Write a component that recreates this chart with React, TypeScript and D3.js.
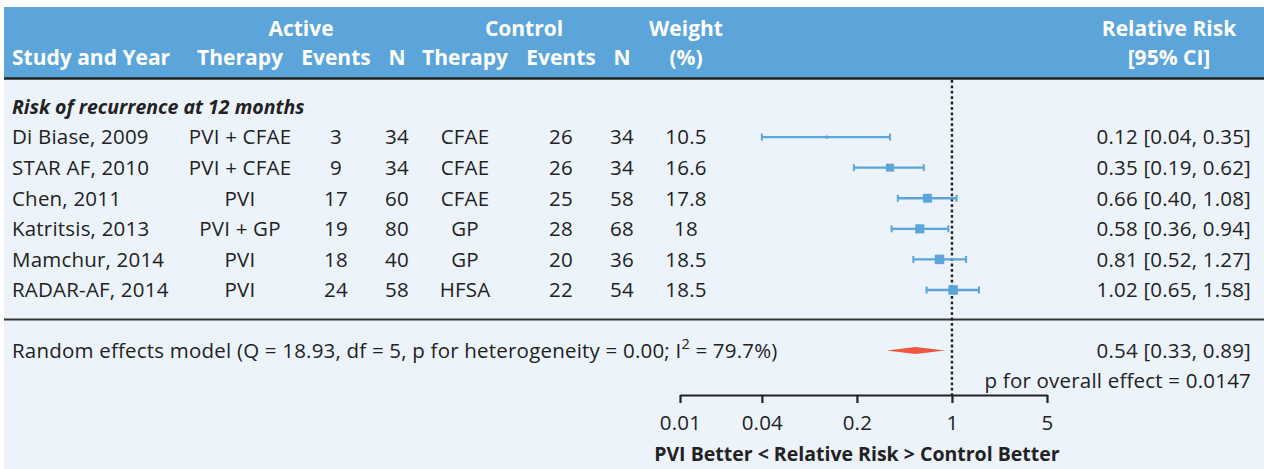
import * as d3 from "d3"
import { useLayoutEffect, useRef } from "react"

// study table
const studies = ["Di Biase, 2009", "STAR AF, 2010", "Chen, 2011", "Katritsis, 2013", "Mamchur, 2014", "RADAR-AF, 2014"]
const activeTherapy = ["PVI + CFAE", "PVI + CFAE", "PVI", "PVI + GP", "PVI", "PVI"]
const activeEvents = [3, 9, 17, 19, 18, 24]
const activeN = [34, 34, 60, 80, 40, 58]
const controlTherapy = ["CFAE", "CFAE", "CFAE", "GP", "GP", "HFSA"]
const controlEvents = [26, 26, 25, 28, 20, 22]
const controlN = [34, 34, 58, 68, 36, 54]
const weights = [10.5, 16.6, 17.8, 18, 18.5, 18.5]
const rr = [0.12, 0.35, 0.66, 0.58, 0.81, 1.02]
const rrLower = [0.04, 0.19, 0.4, 0.36, 0.52, 0.65]
const rrUpper = [0.35, 0.62, 1.08, 0.94, 1.27, 1.58]

// pooled estimate
const pooled = [0.54, 0.33, 0.89] // estimate, lower, upper
const pooledLabel = "0.54 [0.33, 0.89]"
const overallP = "p for overall effect = 0.0147"
const subgroup = "Risk of recurrence at 12 months"

const axisTicks = [0.01, 0.04, 0.2, 1, 5]
const axisTickLabels = ["0.01", "0.04", "0.2", "1", "5"]

const BLUE = "#5ba5da"
const BG = "#ecf3fb"
const INK = "#222"
const DIAMOND = "#f0573f"
const FONT = "'Open Sans', sans-serif"
const BODY_SIZE = 20.5

const fmt2 = (v: number) => v.toFixed(2)

export default function App() {
  const ref = useRef<SVGSVGElement>(null)

  useLayoutEffect(() => {
    if (!ref.current) return
    const svg = d3.select(ref.current)
    svg.selectAll("*").remove()

    const W = 1264
    const H = 469
    const col = {
      study: 12,
      aTher: 240,
      aEv: 336,
      aN: 397,
      cTher: 465,
      cEv: 561,
      cN: 622,
      weight: 686,
      rrRight: 1251,
      rrHead: 1169,
    }

    const x = d3.scaleLog().domain([0.01, 5]).range([680, 1047])
    const y = d3
      .scalePoint<string>()
      .domain(["__sub", ...studies])
      .range([106.5, 290])
    const size = d3.scaleLinear().domain([10.5, 18.5]).range([3, 9.5])

    // panels
    svg.append("rect").attr("x", 4).attr("y", 7).attr("width", W - 4).attr("height", 71).attr("fill", BLUE)
    svg.append("rect").attr("x", 4).attr("y", 79).attr("width", W - 4).attr("height", H - 79).attr("fill", BG)
    svg.append("line").attr("x1", 4).attr("x2", W).attr("y1", 78.5).attr("y2", 78.5).attr("stroke", INK).attr("stroke-width", 2.5)
    svg.append("line").attr("x1", 4).attr("x2", W).attr("y1", 319.5).attr("y2", 319.5).attr("stroke", "#333").attr("stroke-width", 2)

    // header
    const head = svg.append("g").attr("fill", "#fff").attr("font-family", FONT).attr("font-weight", 700).attr("font-size", 21)
    const headTop: [string, number][] = [
      ["Active", 301],
      ["Control", 524],
      ["Weight", col.weight],
      ["Relative Risk", col.rrHead],
    ]
    const headBottom: [string, number][] = [
      ["Therapy", col.aTher],
      ["Events", col.aEv],
      ["N", col.aN],
      ["Therapy", col.cTher],
      ["Events", col.cEv],
      ["N", col.cN],
      ["(%)", col.weight],
      ["[95% CI]", col.rrHead],
    ]
    headTop.forEach(([t, cx]) => head.append("text").attr("x", cx).attr("y", 36).attr("text-anchor", "middle").text(t))
    headBottom.forEach(([t, cx]) => head.append("text").attr("x", cx).attr("y", 65).attr("text-anchor", "middle").text(t))
    head.append("text").attr("x", col.study).attr("y", 65).text("Study and Year")

    // body text
    const body = svg
      .append("g")
      .attr("fill", INK)
      .attr("font-family", FONT)
      .attr("font-weight", 500)
      .attr("font-size", BODY_SIZE)
      .attr("letter-spacing", 0.2)
    body
      .append("text")
      .attr("x", col.study)
      .attr("y", y("__sub")!)
      .attr("dy", "0.36em")
      .attr("font-size", 19.5)
      .attr("letter-spacing", 0)
      .attr("font-weight", 700)
      .attr("font-style", "italic")
      .text(subgroup)

    studies.forEach((s, i) => {
      const row = body.append("g").attr("transform", `translate(0,${y(s)})`)
      const cell = (t: string, cx: number, anchor = "middle") =>
        row.append("text").attr("x", cx).attr("dy", "0.36em").attr("text-anchor", anchor).text(t)
      cell(s, col.study, "start")
      cell(activeTherapy[i], col.aTher)
      cell(String(activeEvents[i]), col.aEv)
      cell(String(activeN[i]), col.aN)
      cell(controlTherapy[i], col.cTher)
      cell(String(controlEvents[i]), col.cEv)
      cell(String(controlN[i]), col.cN)
      cell(String(weights[i]), col.weight)
      cell(`${fmt2(rr[i])} [${fmt2(rrLower[i])}, ${fmt2(rrUpper[i])}]`, col.rrRight, "end")
    })

    // random effects row
    const reY = 350.5
    const re = body.append("text").attr("x", col.study).attr("y", reY).attr("dy", "0.36em")
    re.append("tspan").text("Random effects model (Q = 18.93, df = 5, p for heterogeneity = 0.00; I")
    re.append("tspan").attr("font-size", 14.5).attr("dy", "-0.6em").text("2")
    re.append("tspan").attr("dy", "0.42em").text(" = 79.7%)")
    body.append("text").attr("x", col.rrRight).attr("y", reY).attr("dy", "0.36em").attr("text-anchor", "end").text(pooledLabel)
    body.append("text").attr("x", col.rrRight).attr("y", 381).attr("dy", "0.36em").attr("text-anchor", "end").text(overallP)

    // reference line at RR = 1
    const axisY = 395
    svg
      .append("line")
      .attr("x1", x(1))
      .attr("x2", x(1))
      .attr("y1", 80)
      .attr("y2", axisY)
      .attr("stroke", INK)
      .attr("stroke-width", 2.4)
      .attr("stroke-dasharray", "2.8,2.6")

    // study CIs and squares
    const forest = svg.append("g")
    studies.forEach((s, i) => {
      const cy = y(s)!
      const x1 = x(rrLower[i])
      const x2 = x(rrUpper[i])
      forest.append("line").attr("x1", x1).attr("x2", x2).attr("y1", cy).attr("y2", cy).attr("stroke", BLUE).attr("stroke-width", 2.4)
      ;[x1, x2].forEach((ex) =>
        forest.append("line").attr("x1", ex).attr("x2", ex).attr("y1", cy - 3.5).attr("y2", cy + 3.5).attr("stroke", BLUE).attr("stroke-width", 2),
      )
      const sz = size(weights[i])
      forest
        .append("rect")
        .attr("x", x(rr[i]) - sz / 2)
        .attr("y", cy - sz / 2)
        .attr("width", sz)
        .attr("height", sz)
        .attr("fill", BLUE)
    })

    // pooled diamond
    const dh = 3.6
    forest
      .append("path")
      .attr(
        "d",
        `M${x(pooled[1])},${reY} L${x(pooled[0])},${reY - dh} L${x(pooled[2])},${reY} L${x(pooled[0])},${reY + dh} Z`,
      )
      .attr("fill", DIAMOND)

    // axis
    const axis = svg.append("g").attr("transform", `translate(0,${axisY})`)
    axis.call(
      d3
        .axisBottom(x)
        .tickValues(axisTicks)
        .tickFormat((_, i) => axisTickLabels[i])
        .tickSize(8)
        .tickSizeOuter(0)
        .tickPadding(12),
    )
    axis.select(".domain").attr("stroke", INK).attr("stroke-width", 2.2)
    axis.selectAll(".tick line").attr("stroke", INK).attr("stroke-width", 2.2)
    axis
      .selectAll(".tick text")
      .attr("fill", INK)
      .attr("font-family", FONT)
      .attr("font-weight", 500)
      .attr("font-size", BODY_SIZE)
      .attr("letter-spacing", 0.2)

    svg
      .append("text")
      .attr("x", x(0.2))
      .attr("y", 454)
      .attr("dy", "0.36em")
      .attr("text-anchor", "middle")
      .attr("font-family", FONT)
      .attr("font-weight", 700)
      .attr("font-size", 19.5)
      .attr("fill", INK)
      .text("PVI Better < Relative Risk > Control Better")
  }, [])

  return <svg ref={ref} width={1264} height={469} style={{ position: "absolute", left: 0, top: 0, display: "block" }} />
}
